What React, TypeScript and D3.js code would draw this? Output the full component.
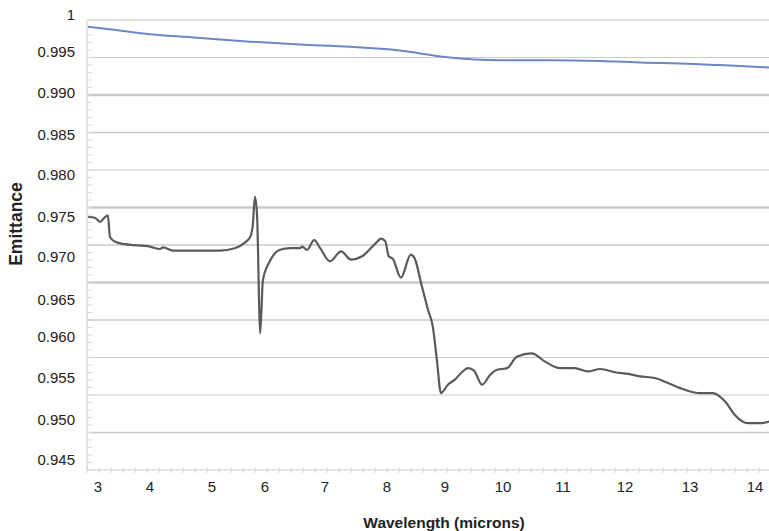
import React, { useEffect, useRef } from 'react';
import * as d3 from 'd3';

// axis tick labels
const xTicks = [3, 4, 5, 6, 7, 8, 9, 10, 11, 12, 13, 14];
const yTicks = [1, 0.995, 0.99, 0.985, 0.98, 0.975, 0.97, 0.965, 0.96, 0.955, 0.95, 0.945];
const yTickText = ['1', '0.995', '0.990', '0.985', '0.980', '0.975', '0.970', '0.965', '0.960', '0.955', '0.950', '0.945'];

// reference emitter (blue)
const refWave = [2.81, 3.3, 4, 4.81, 5.72, 6.58, 7.4, 8.22, 9, 9.95, 10.8, 11.6, 12.3, 12.85, 13.46, 14.22];
const refEmit = [0.9984, 0.998, 0.9974, 0.9969, 0.9964, 0.996, 0.9957, 0.9952, 0.9944, 0.994, 0.994, 0.9939, 0.9937, 0.9936, 0.9934, 0.9931];

// sample (dark grey)
const sampleWave = [
  2.81, 2.94, 3.04, 3.12, 3.19, 3.23, 3.33, 3.52, 4, 4.16, 4.21, 4.37, 4.81, 5.15, 5.43, 5.62,
  5.72, 5.77, 5.81, 5.85, 5.91, 5.96, 6.08, 6.25, 6.42, 6.58, 6.62, 6.7, 6.82, 6.92, 7.08, 7.26,
  7.42, 7.6, 7.84, 7.9, 7.97, 8.03, 8.1, 8.24, 8.41, 8.48, 8.59, 8.71, 8.79, 8.86, 8.93, 9.05,
  9.17, 9.29, 9.4, 9.5, 9.64, 9.78, 9.9, 10.07, 10.23, 10.48, 10.7, 10.95, 11.19, 11.4, 11.6,
  11.84, 12.05, 12.23, 12.46, 12.66, 12.92, 13.15, 13.35, 13.54, 13.69, 13.89, 14.08, 14.22
];
const sampleEmit = [
  0.975, 0.9749, 0.9744, 0.9749, 0.9752, 0.9725, 0.9719, 0.9716, 0.9713, 0.971, 0.9712, 0.9708, 0.9708, 0.9708, 0.9711, 0.9718,
  0.9725, 0.974, 0.9774, 0.9752, 0.9605, 0.9673, 0.9695, 0.9709, 0.9711, 0.9711, 0.9713, 0.9709, 0.9721, 0.9711, 0.9695, 0.9707,
  0.9697, 0.9701, 0.9719, 0.9723, 0.972, 0.9701, 0.9698, 0.9676, 0.9703, 0.9698, 0.9669, 0.9636, 0.9614, 0.9572, 0.9532, 0.9542,
  0.9548, 0.9557, 0.9562, 0.9559, 0.9542, 0.9554, 0.956, 0.9562, 0.9576, 0.958, 0.957, 0.9562, 0.9562, 0.9558, 0.9561,
  0.9557, 0.9555, 0.9552, 0.955, 0.9544, 0.9536, 0.9532, 0.9532, 0.9522, 0.9506, 0.9496, 0.9496, 0.9498
];

// gridline stroke widths, bottom to top (the scan has uneven lines)
const gridWidths = [0, 1.6, 1.2, 1.2, 1.6, 2.6, 1.4, 2.6, 1.2, 1.4, 2.4, 1.2, 2];

const W = 769;
const H = 531;
const font = '"Liberation Sans", Arial, sans-serif';

const drawChart = (node: SVGSVGElement) => {
  const svg = d3.select(node);
  svg.selectAll('*').remove();

  const left = 87, right = 769, top = 20, bottom = 470;

  // the scanned chart is slightly uneven, so the scales are piecewise
  const x = d3.scaleLinear()
    .domain(xTicks)
    .range([98, 150, 212, 265, 325, 387, 445, 503, 563, 625, 690, 755]);
  const y = d3.scaleLinear()
    .domain(yTicks)
    .range([15, 52, 93, 135, 175, 217, 257, 300, 337, 378, 420, 460]);
  const grid = d3.scaleLinear().domain([0, 12]).range([bottom, top]);

  svg.append('rect').attr('width', W).attr('height', H).attr('fill', '#fff');

  // gridlines
  svg.append('g')
    .selectAll('line')
    .data(d3.range(1, 13))
    .enter()
    .append('line')
    .attr('x1', left)
    .attr('x2', right)
    .attr('y1', d => grid(d))
    .attr('y2', d => grid(d))
    .attr('stroke', d => (d === 12 ? '#e2e2e2' : '#cacaca'))
    .attr('stroke-width', d => gridWidths[d]);

  // left axis with minor ticks
  svg.append('line')
    .attr('x1', left).attr('x2', left).attr('y1', top).attr('y2', bottom)
    .attr('stroke', '#dcdcdc').attr('stroke-width', 1.5);
  svg.append('g')
    .selectAll('line')
    .data(d3.range(0, 61))
    .enter()
    .append('line')
    .attr('x1', left).attr('x2', left + 5)
    .attr('y1', d => grid(d / 5)).attr('y2', d => grid(d / 5))
    .attr('stroke', '#d8d8d8').attr('stroke-width', 1);

  // bottom axis with minor ticks
  svg.append('line')
    .attr('x1', left).attr('x2', right).attr('y1', bottom).attr('y2', bottom)
    .attr('stroke', '#dcdcdc').attr('stroke-width', 1.5);
  svg.append('g')
    .selectAll('line')
    .data(d3.range(0, 57))
    .enter()
    .append('line')
    .attr('x1', d => left + d * 12).attr('x2', d => left + d * 12)
    .attr('y1', bottom - 3).attr('y2', bottom + 3)
    .attr('stroke', '#d4d4d4').attr('stroke-width', 1);

  // tick labels
  svg.append('g')
    .selectAll('text')
    .data(xTicks)
    .enter()
    .append('text')
    .attr('x', d => x(d))
    .attr('y', 492)
    .attr('text-anchor', 'middle')
    .style('font-family', font)
    .style('font-size', '15px')
    .attr('fill', '#222')
    .text(d => d);

  svg.append('g')
    .selectAll('text')
    .data(yTicks)
    .enter()
    .append('text')
    .attr('x', 75)
    .attr('y', d => y(d) + 5)
    .attr('text-anchor', 'end')
    .style('font-family', font)
    .style('font-size', '15px')
    .attr('fill', '#222')
    .text((d, i) => yTickText[i]);

  // axis titles
  svg.append('text')
    .attr('x', 444)
    .attr('y', 528)
    .attr('text-anchor', 'middle')
    .style('font-family', font)
    .style('font-size', '15.5px')
    .style('font-weight', 'bold')
    .attr('fill', '#222')
    .text('Wavelength (microns)');

  svg.append('text')
    .attr('transform', 'translate(22,224) rotate(-90)')
    .attr('text-anchor', 'middle')
    .style('font-family', font)
    .style('font-size', '17.5px')
    .style('font-weight', 'bold')
    .attr('fill', '#222')
    .text('Emittance');

  const line = d3.line<[number, number]>()
    .x(d => x(d[0]))
    .y(d => y(d[1]))
    .curve(d3.curveMonotoneX);

  svg.append('path')
    .attr('d', line(refWave.map((w, i) => [w, refEmit[i]] as [number, number])))
    .attr('fill', 'none')
    .attr('stroke', '#6b88c4')
    .attr('stroke-width', 2);

  svg.append('path')
    .attr('d', line(sampleWave.map((w, i) => [w, sampleEmit[i]] as [number, number])))
    .attr('fill', 'none')
    .attr('stroke', '#5a5a5a')
    .attr('stroke-width', 2.2)
    .attr('stroke-linejoin', 'round');
};

export default function App() {
  const ref = useRef<SVGSVGElement>(null);

  useEffect(() => {
    if (ref.current) drawChart(ref.current);
  }, []);

  return (
    <svg
      ref={ref}
      width={W}
      height={H}
      style={{ position: 'absolute', left: 0, top: 0, display: 'block' }}
    />
  );
}
